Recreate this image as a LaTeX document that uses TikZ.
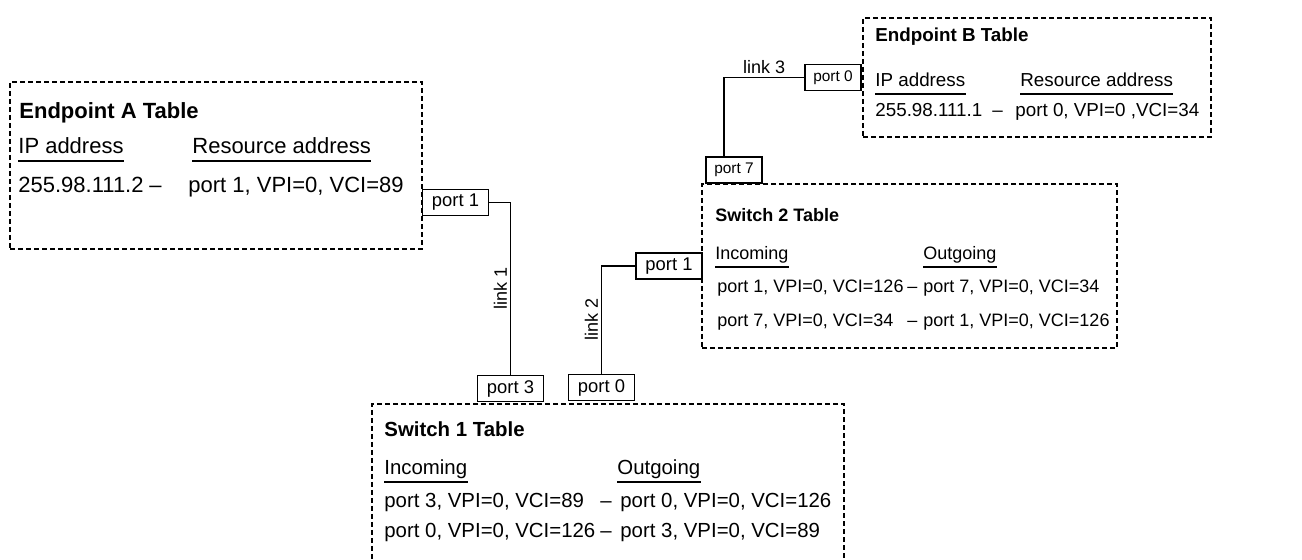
\documentclass[tikz,border=0pt]{standalone}
\usepackage{fontspec}
\setmainfont{Liberation Sans}
\usetikzlibrary{fit}
\tikzset{
    tablebox/.style={draw,dash pattern=on 2.5pt off 1.5pt,line width=0.6pt,inner sep=0pt},
    portbox/.style={draw,fill=white,line width=0.6pt,inner sep=1pt,minimum width=33pt,minimum height=13pt,font=\fontsize{9.2}{11}\selectfont},
    smallport/.style={portbox,minimum width=28pt,font=\fontsize{7.7}{9}\selectfont},
    link/.style={line width=0.6pt},
    linklbl/.style={font=\fontsize{9}{11}\selectfont,inner sep=1.5pt},
    txt/.style={anchor=base west,inner sep=0pt},
    txtA/.style={txt,font=\fontsize{11}{13}\selectfont},
    txtB/.style={txt,font=\fontsize{9.4}{11}\selectfont},
    txtSa/.style={txt,font=\fontsize{10.2}{12}\selectfont},
    txtSb/.style={txt,font=\fontsize{9}{11}\selectfont},
    rule/.style={line width=0.6pt},
}

\begin{document}
\begin{tikzpicture}[x=0.5pt,y=-0.5pt]
\useasboundingbox (0,0) rectangle (1302,560);
\clip (0,0) rectangle (1302,560);

% tables
\node[tablebox,fit={(10,82) (422,249)}]   (epA) {};
\node[tablebox,fit={(863,18) (1211,137)}] (epB) {};
\node[tablebox,fit={(702,184) (1117,348)}] (sw2) {};
\node[tablebox,fit={(372,404) (844,590)}] (sw1) {};

% endpoint A
\node[txtA] (ttlA) at (19,119)  {\textbf{Endpoint A Table}};
\node[txtA] (ipA)  at (18,154)  {IP address};
\node[txtA] (resA) at (192,154) {Resource address};
\node[txtA] (adrA) at (18,193)  {255.98.111.2};
\node[txtA] (dA)   at (149,193) {--};
\node[txtA] (rowA) at (188,193) {port 1, VPI=0, VCI=89};

% endpoint B
\node[txtB] (ttlB) at (875,42)   {\textbf{Endpoint B Table}};
\node[txtB] (ipB)  at (875,87)   {IP address};
\node[txtB] (resB) at (1020,87)  {Resource address};
\node[txtB] (adrB) at (875,117)  {255.98.111.1};
\node[txtB] (dB)   at (992,117)  {--};
\node[txtB] (rowB) at (1015,117) {port 0, VPI=0 ,VCI=34};

% switch 2
\node[txtSb] (ttlSb) at (715,222) {\textbf{Switch 2 Table}};
\node[txtSb] (inSb)  at (715,260) {Incoming};
\node[txtSb] (outSb) at (923,260) {Outgoing};
\node[txtSb] (inSb1) at (717,293) {port 1, VPI=0, VCI=126};
\node[txtSb] (dSb1)  at (907,293) {--};
\node[txtSb] (ouSb1) at (923,293) {port 7, VPI=0, VCI=34};
\node[txtSb] (inSb2) at (717,327) {port 7, VPI=0, VCI=34};
\node[txtSb] (dSb2)  at (907,327) {--};
\node[txtSb] (ouSb2) at (923,327) {port 1, VPI=0, VCI=126};

% switch 1
\node[txtSa] (ttlSa) at (384,437) {\textbf{Switch 1 Table}};
\node[txtSa] (inSa)  at (384,475) {Incoming};
\node[txtSa] (outSa) at (617,475) {Outgoing};
\node[txtSa] (inSa1) at (384,508) {port 3, VPI=0, VCI=89};
\node[txtSa] (dSa1)  at (600,508) {--};
\node[txtSa] (ouSa1) at (620,508) {port 0, VPI=0, VCI=126};
\node[txtSa] (inSa2) at (384,538) {port 0, VPI=0, VCI=126};
\node[txtSa] (dSa2)  at (600,538) {--};
\node[txtSa] (ouSa2) at (620,538) {port 3, VPI=0, VCI=89};

\foreach \n in {ipA,resA,ipB,resB,inSb,outSb,inSa,outSa}
    \draw[rule] ([yshift=-3.5pt]\n.base west) -- ([yshift=-3.5pt]\n.base east);

% ports
\node[portbox]   (pA1) at (455.5,202.5) {port 1};
\node[portbox]   (p13) at (510.5,388.5) {port 3};
\node[portbox]   (p10) at (601.5,387.5) {port 0};
\node[portbox]   (p21) at (669,266)     {port 1};
\node[smallport] (p27) at (734,170)     {port 7};
\node[smallport] (pB0) at (833,77.5)    {port 0};

% links
\draw[link] (pA1.east) -| node[linklbl,pos=0.75,rotate=90,anchor=south]{link 1} (p13.north);
\draw[link] (p10.north) |- node[linklbl,pos=0.25,rotate=90,anchor=south]{link 2} (p21.west);
\draw[link] ([xshift=-5pt]p27.north) |- node[linklbl,pos=0.75,anchor=south]{link 3} (pB0.west);
\end{tikzpicture}
\end{document}
